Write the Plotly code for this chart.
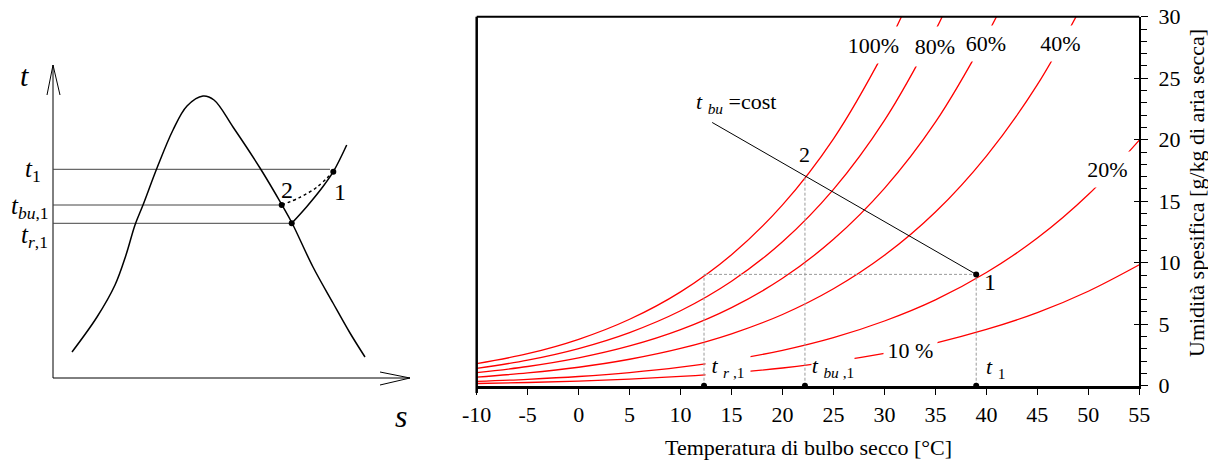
import plotly.graph_objects as go

FONT = "Liberation Serif, Times New Roman, serif"

# ---------------- psychrometric chart data ----------------
rh100_t = [-10, -5, 0, 5, 10, 15, 20, 25, 30, 32]
rh100_w = [1.80, 2.60, 3.77, 5.40, 7.63, 10.65, 14.70, 20.07, 27.20, 30.60]
rh80_t = [-10, -5, 0, 5, 10, 15, 20, 25, 30, 35, 36]
rh80_w = [1.41, 2.08, 3.02, 4.32, 6.09, 8.49, 11.70, 15.96, 21.57, 28.89, 30.60]
rh60_t = [-10, -5, 0, 5, 10, 15, 20, 25, 30, 35, 40, 42]
rh60_w = [1.06, 1.56, 2.26, 3.23, 4.56, 6.35, 8.73, 11.90, 16.04, 21.42, 28.44, 31.70]
rh40_t = [-10, -5, 0, 5, 10, 15, 20, 25, 30, 35, 40, 45, 50]
rh40_w = [0.70, 1.04, 1.50, 2.15, 3.03, 4.22, 5.79, 7.88, 10.60, 14.12, 18.67, 24.47, 31.88]
rh20_t = [-10, -5, 0, 5, 10, 15, 20, 25, 30, 35, 40, 45, 50, 55]
rh20_w = [0.35, 0.52, 0.75, 1.07, 1.51, 2.10, 2.88, 3.91, 5.26, 6.98, 9.20, 12.00, 15.54, 19.97]
rh10_t = [-10, -5, 0, 5, 10, 15, 20, 25, 30, 35, 40, 45, 50, 55]
rh10_w = [0.18, 0.26, 0.38, 0.54, 0.76, 1.05, 1.44, 1.95, 2.62, 3.47, 4.57, 5.94, 7.68, 9.83]

curves = [(rh100_t, rh100_w), (rh80_t, rh80_w), (rh60_t, rh60_w),
          (rh40_t, rh40_w), (rh20_t, rh20_w), (rh10_t, rh10_w)]

# state points
t1, w1 = 39.0, 9.05          # state 1
t_bu1, w2 = 22.2, 16.9       # wet bulb / state 2 (saturation)
t_r1 = 12.3                  # dew point
tbu_line_t = [13.1, t1]      # t_bu = cost line
tbu_line_w = [21.4, w1]

x_ticks = list(range(-10, 60, 5))
x_ticktext = ["-10", "-5", "0", "5", "10", "15", "20", "25", "30", "35", "40", "45", "50", "55"]
y_ticks = list(range(0, 35, 5))

# ---------------- T-s sketch data (sketch units) ----------------
dome_s = [19, 44, 62, 73, 82, 90, 104, 120, 134, 150, 161, 180, 207, 229, 239, 260, 280, 297, 312]
dome_t = [26, 61, 93, 123, 153, 173, 210, 248, 272, 282, 278, 251, 210, 173, 155, 111, 75, 45, 21]
vap_s = [238.7, 253.7, 268.7, 280.3, 293.7]
vap_t = [154.7, 171.3, 189.7, 206.3, 233.0]
dot_s = [228.7, 247.0, 263.7, 280.3]
dot_t = [173.0, 180.7, 190.7, 206.3]
pts_s = [228.7, 238.7, 280.3]
pts_t = [173.0, 154.7, 206.3]
lev_t = [208.7, 173.0, 154.7]        # t1, t_bu1, t_r1 levels
lev_end = [277.0, 228.7, 238.7]
axis_v_s, axis_v_t = [0, 0], [0, 313]
arrow_v_s, arrow_v_t = [-6, 0, 7], [283, 313, 283]
axis_h_s, axis_h_t = [0, 357], [0, 0]
arrow_h_s, arrow_h_t = [327, 357, 327], [6, 0, -7]

# page is offset by the 8px body margin
W, H, OFF = 1208, 453, 8
def px_x(px):
    return (px - OFF) / W
def px_y(py):
    return 1 - (py - OFF) / H

fig = go.Figure()

# ---- psychrometric traces ----
for ts, ws in curves:
    fig.add_trace(go.Scatter(x=ts, y=ws, mode="lines", line=dict(color="#ff0000", width=1.3, shape="spline"),
                             xaxis="x", yaxis="y", hoverinfo="skip"))

dash_col = "#9a9a9a"
fig.add_trace(go.Scatter(x=[t_r1, t1], y=[w1, w1], mode="lines",
                         line=dict(color=dash_col, width=1, dash="3px,2px"), xaxis="x", yaxis="y"))
for tv, wv in [(t_r1, w1), (t_bu1, w2), (t1, w1)]:
    fig.add_trace(go.Scatter(x=[tv, tv], y=[0, wv], mode="lines",
                             line=dict(color=dash_col, width=1, dash="3px,2px"), xaxis="x", yaxis="y"))
fig.add_trace(go.Scatter(x=tbu_line_t, y=tbu_line_w, mode="lines", line=dict(color="black", width=1),
                         xaxis="x", yaxis="y"))
fig.add_trace(go.Scatter(x=[t_r1, t_bu1, t1, t1], y=[0, 0, 0, w1], mode="markers",
                         marker=dict(color="black", size=6), cliponaxis=False, xaxis="x", yaxis="y"))

# ---- sketch traces ----
def sk(xs, ys, **kw):
    fig.add_trace(go.Scatter(x=xs, y=ys, xaxis="x2", yaxis="y2", hoverinfo="skip", cliponaxis=False, **kw))

sk(axis_v_s, axis_v_t, mode="lines", line=dict(color="black", width=1))
sk(arrow_v_s, arrow_v_t, mode="lines", line=dict(color="black", width=1))
sk(axis_h_s, axis_h_t, mode="lines", line=dict(color="black", width=1))
sk(arrow_h_s, arrow_h_t, mode="lines", line=dict(color="black", width=1))
for lv, le in zip(lev_t, lev_end):
    sk([0, le], [lv, lv], mode="lines", line=dict(color="#444444", width=1))
sk(dome_s, dome_t, mode="lines", line=dict(color="black", width=1.5, shape="spline"))
sk(vap_s, vap_t, mode="lines", line=dict(color="black", width=1.5, shape="spline"))
sk(dot_s, dot_t, mode="lines", line=dict(color="black", width=1.5, dash="dot", shape="spline"))
sk(pts_s, pts_t, mode="markers", marker=dict(color="black", size=6))

ann = []
def A(text, x, y, size=22, ref="", **kw):
    d = dict(text=text, x=x, y=y, xref="x" + ref, yref="y" + ref, showarrow=False,
             xanchor="center", yanchor="middle",
             font=dict(family=FONT, size=size, color="black"))
    d.update(kw)
    ann.append(d)

# box labels that break the curves (px sizes)
WB = dict(bgcolor="white", borderpad=0)
A("100%", 28.93, 27.70, width=57, height=36, **WB)
A("80%", 34.96, 27.58, width=46, height=39, **WB)
A("60%", 39.96, 27.82, width=46, height=35, **WB)
A("40%", 47.25, 27.82, width=47, height=35, **WB)
A("20%", 51.88, 17.58, width=47, height=35, **WB)
A("10 %", 32.55, 2.90, width=53, height=24, **WB)
A("<i>t</i> <sub><i>r</i> ,1</sub>", 14.65, 1.50, width=44, height=30, **WB)
A("<i>t</i> <sub><i>bu</i> ,1</sub>", 24.95, 1.50, width=42, height=30, **WB)
A("<i>t</i> <sub>1</sub>", 40.93, 1.40)
A("1", 40.35, 8.45, size=24)
A("2", 22.11, 18.80)
A("<i>t</i> <sub><i>bu</i></sub> =cost", 15.44, 23.0)

# sketch labels
A("<i>t</i>", -29, 303, size=30, ref="2")
A("<i>s</i>", 348, -38, size=32, ref="2")
A("<i>t</i><sub>1</sub>", -20, 208, size=25, ref="2")
A("<i>t</i><sub><i>bu</i>,1</sub>", -23, 171, size=25, ref="2")
A("<i>t</i><sub><i>r</i>,1</sub>", -19, 142, size=25, ref="2")
A("2", 234, 188, size=24, ref="2")
A("1", 287, 186, size=24, ref="2")

# axis titles
ann.append(dict(text="Temperatura di bulbo secco [°C]", x=px_x(808), y=px_y(447), xref="paper", yref="paper",
                xanchor="center", yanchor="middle",
                showarrow=False, font=dict(family=FONT, size=22, color="black")))
ann.append(dict(text="Umidità spesifica [g/kg di aria secca]", x=px_x(1196), y=px_y(193), xref="paper",
                yref="paper", xanchor="center", yanchor="middle",
                showarrow=False, textangle=-90, font=dict(family=FONT, size=22, color="black")))

xd0, xd1 = px_x(476.7), px_x(1139.3)
yd0, yd1 = px_y(385.7), px_y(16.7)

fig.update_layout(
    width=W, height=H, margin=dict(l=0, r=0, t=0, b=0, autoexpand=False),
    paper_bgcolor="white", plot_bgcolor="white", showlegend=False,
    font=dict(family=FONT, size=22, color="black"),
    xaxis=dict(domain=[xd0, xd1], range=[-10, 55], tickvals=x_ticks, ticktext=x_ticktext,
               ticks="outside", ticklen=7, automargin=False, ticklabeloverflow="allow",
               tickwidth=1, tickcolor="black", showline=True, linewidth=2.5, linecolor="black",
               showgrid=False, zeroline=False, anchor="y",
               tickfont=dict(family=FONT, size=22, color="black")),
    yaxis=dict(domain=[yd0, yd1], range=[0, 30], tickvals=y_ticks, side="right", ticks="outside",
               ticklen=7, tickwidth=1, tickcolor="black", showline=True, linewidth=1.5, linecolor="black",
               showgrid=False, zeroline=False, anchor="x", ticklabelstandoff=6, automargin=False,
               ticklabeloverflow="allow",
               minor=dict(dtick=1, ticks="outside", ticklen=6, tickcolor="black", tickwidth=1, showgrid=False),
               tickfont=dict(family=FONT, size=22, color="black")),
    yaxis3=dict(overlaying="y", anchor="x", side="right", range=[0, 30], tickvals=y_ticks, ticks="inside",
                ticklen=5, tickcolor="black", showticklabels=False, showgrid=False, zeroline=False,
                showline=False, automargin=False),
    xaxis2=dict(domain=[0, px_x(440)], range=[OFF - 53, 440 - 53], visible=False, anchor="y2", automargin=False),
    yaxis2=dict(domain=[0, 1], range=[378 - 461, 378 - OFF], visible=False, anchor="x2", automargin=False),
    annotations=ann,
    shapes=[
        dict(type="line", xref="x domain", yref="y domain", x0=0, x1=1, y0=1, y1=1,
             line=dict(color="black", width=2)),
        dict(type="line", xref="x domain", yref="y domain", x0=0, x1=0, y0=-0.02, y1=1,
             line=dict(color="black", width=2.5)),
    ],
)
# dummy trace to show yaxis3
fig.add_trace(go.Scatter(x=[None], y=[None], xaxis="x", yaxis="y3", showlegend=False))

fig.write_html("out.html")
